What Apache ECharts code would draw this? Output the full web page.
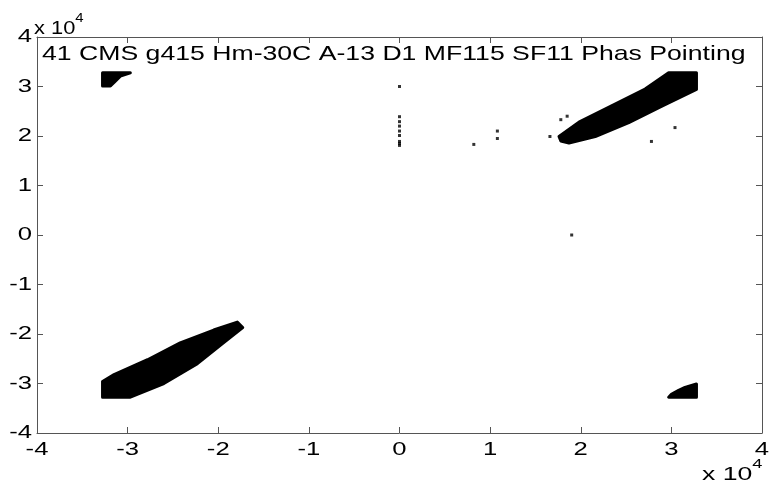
<!DOCTYPE html>
<html>
<head>
<meta charset="utf-8">
<script src="https://cdn.jsdelivr.net/npm/echarts@6/dist/echarts.min.js"></script>
<style>html,body{margin:0;padding:0;background:#fff}#c{width:770px;height:485px}</style>
</head>
<body>
<div id="c"></div>
<script>
var titleText = '41 CMS g415 Hm-30C A-13 D1 MF115 SF11 Phas Pointing';
var tickValues = [-40000,-30000,-20000,-10000,0,10000,20000,30000,40000];
var xTickLabels = ['-4','-3','-2','-1','0','1','2','3','4'];
var yTickLabels = ['-4','-3','-2','-1','0','1','2','3','4'];
var exponentText = 'x 10';
var exponentPower = '4';

// outlines of the dense point clusters (raw units)
var clusterSW = [[-32768,-29600],[-31500,-28200],[-27800,-25200],[-24200,-21800],[-20500,-19200],[-17900,-17600],[-17300,-18700],[-19500,-21900],[-22300,-26000],[-26000,-30000],[-29700,-32768],[-32768,-32768]];
var clusterNE = [[17600,19900],[19800,22800],[23400,26100],[27100,29500],[29700,32768],[32768,32768],[32768,29400],[28900,26000],[25300,22700],[21600,19900],[18700,18600],[17800,19000]];
var clusterNW = [[-32768,32768],[-29700,32768],[-30800,32100],[-31500,30800],[-31900,30100],[-32768,30100]];
var clusterSE = [[29700,-32768],[32768,-32768],[32768,-30100],[31500,-30800],[30800,-31400],[30000,-32200]];

// isolated points
var strayX = [0,0,0,0,0,0,0,0,0,8200,10800,10800,19000,16600,17800,18500,30400,27800];
var strayY = [30000,23900,22900,22000,21000,20100,18900,18500,18100,18300,21000,19500,0,19900,23300,24000,21700,18900];

var chart = echarts.init(document.getElementById('c'), null, {renderer:'canvas'});
var FONT = '"Liberation Sans", Arial, sans-serif';
var TICK_FONT = '19px ' + FONT;
var TEXT_SX = 1.35;

function polySeries(pts){
  return {
    type:'custom',
    data: pts,
    clip:true,
    silent:true,
    renderItem: function(params, api){
      if (params.dataIndex !== 0) return null;
      var p = pts.map(function(v){ return api.coord(v); });
      return {type:'polygon', shape:{points:p}, style:{fill:'#000', stroke:'#000', lineWidth:3, lineJoin:'round'}};
    },
    z: 3
  };
}

var axisCommon = {
  min:-40000, max:40000, interval:10000,
  axisLine:{show:true, onZero:false, lineStyle:{color:'#555', width:1}},
  axisTick:{show:true, inside:true, length:6, lineStyle:{color:'#555'}},
  axisLabel:{show:false},
  splitLine:{show:false}
};

var expRich = {a:{fontFamily:'Liberation Sans', fontSize:19, fill:'#000', padding:[7,0,0,0]}, b:{fontFamily:'Liberation Sans', fontSize:13, fill:'#000', verticalAlign:'top'}};

var option = {
  animation:false,
  backgroundColor:'#fff',
  grid:{left:37, right:8, top:37, bottom:52, containLabel:false},
  xAxis:[
    Object.assign({}, axisCommon, {type:'value', position:'bottom'}),
    Object.assign({}, axisCommon, {type:'value', position:'top'})
  ],
  yAxis:[
    Object.assign({}, axisCommon, {type:'value', position:'left'}),
    Object.assign({}, axisCommon, {type:'value', position:'right'})
  ],
  graphic:[
    {type:'text', x:42, y:44, scaleX:1.268, style:{text:titleText, fill:'#000', font:'21px ' + FONT, textVerticalAlign:'top'}},
    {type:'text', x:34, y:12, scaleX:1.15, style:{text:'{a|' + exponentText + '}{b|' + exponentPower + '}', rich:expRich}},
    {type:'text', x:702, y:458, scaleX:1.4, style:{text:'{a|' + exponentText + '}{b|' + exponentPower + '}', rich:expRich}}
  ],
  series:[
    polySeries(clusterSW),
    polySeries(clusterNE),
    polySeries(clusterNW),
    polySeries(clusterSE),
    {type:'scatter', symbol:'rect', symbolSize:3, itemStyle:{color:'#000'},
     data: strayX.map(function(x,i){ return [x, strayY[i]]; }), z:4},
    // x tick labels placed through the x scale
    {type:'custom', clip:false, silent:true, data: tickValues.map(function(v){ return [v, -40000]; }),
     renderItem:function(params, api){
       var p = api.coord([api.value(0), api.value(1)]);
       return {type:'text', x:p[0], y:p[1] + 7, scaleX:TEXT_SX,
         style:{text:xTickLabels[params.dataIndex], fill:'#000', font:TICK_FONT, textAlign:'center', textVerticalAlign:'top'}};
     }},
    // y tick labels placed through the y scale
    {type:'custom', clip:false, silent:true, data: tickValues.map(function(v){ return [-40000, v]; }),
     renderItem:function(params, api){
       var p = api.coord([api.value(0), api.value(1)]);
       return {type:'text', x:p[0] - 5, y:p[1], scaleX:TEXT_SX,
         style:{text:yTickLabels[params.dataIndex], fill:'#000', font:TICK_FONT, textAlign:'right', textVerticalAlign:'middle'}};
     }}
  ]
};
chart.setOption(option);
</script>
</body>
</html>
